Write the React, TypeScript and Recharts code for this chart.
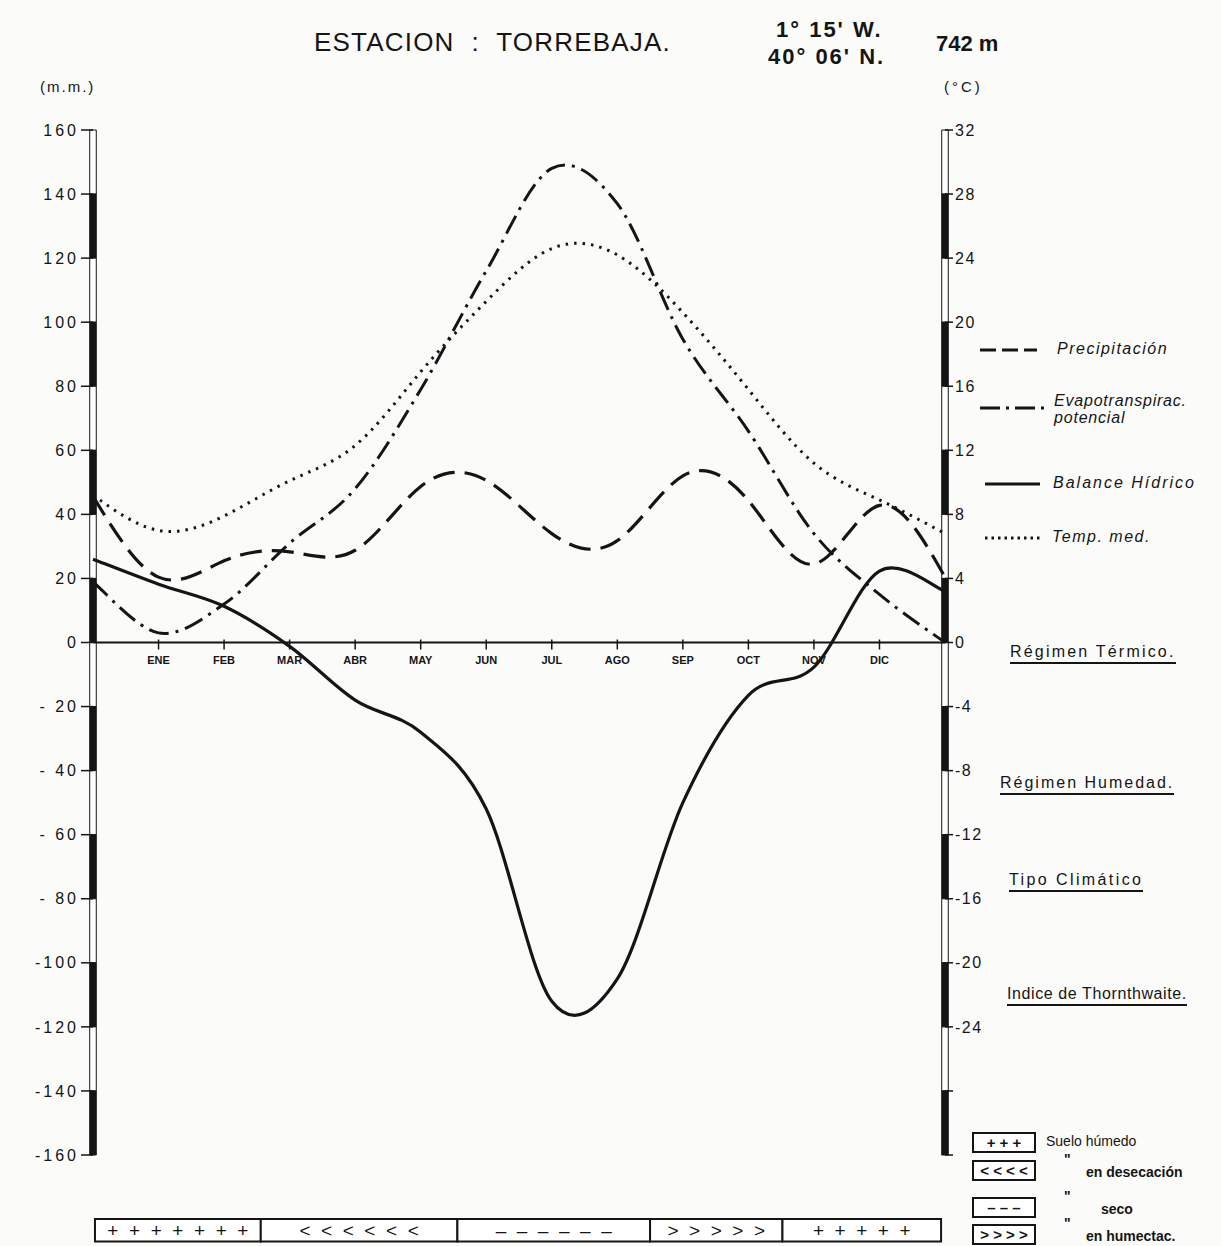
import React from 'react'
import {
  ComposedChart,
  Line,
  XAxis,
  YAxis,
  ReferenceLine,
  ReferenceArea,
  Scatter,
} from 'recharts'

// position 0 = left edge of the diagram, 1..12 = months, 13 = right edge
const positions = [0, 1, 2, 3, 4, 5, 6, 7, 8, 9, 10, 11, 12, 13]
const months = ['ENE', 'FEB', 'MAR', 'ABR', 'MAY', 'JUN', 'JUL', 'AGO', 'SEP', 'OCT', 'NOV', 'DIC']
const monthPositions = [1, 2, 3, 4, 5, 6, 7, 8, 9, 10, 11, 12]

// mm
const precipitacion = [45.6, 20.4, 25.5, 28.3, 28.8, 48.7, 50.6, 34, 31.8, 52, 44.3, 24.5, 42.8, 20.4]
const evapotranspiracion = [18.9, 3, 12, 31, 48, 79, 116, 148, 137, 94.7, 66, 34, 15, 0]
const balanceHidrico = [26, 18.2, 11.3, -1.2, -18, -28, -52, -112, -105, -50, -16.5, -7.7, 22.3, 16]
// °C
const tempMedia = [9.2, 7.0, 7.9, 10.1, 12.3, 16.9, 21.3, 24.6, 24.2, 20.6, 15.8, 11.2, 8.9, 6.8]

const mmTicks = [160, 140, 120, 100, 80, 60, 40, 20, 0, -20, -40, -60, -80, -100, -120, -140, -160]
const tempTicks = [32, 28, 24, 20, 16, 12, 8, 4, 0, -4, -8, -12, -16, -20, -24, -28, -32]

// soil water state strip under the diagram
const soilStart = [0.03, 2.56, 5.56, 8.5, 10.52]
const soilEnd = [2.56, 5.56, 8.5, 10.52, 12.94]
const soilSymbols = ['+ + + + + + +', '< < < < < <', '– – – – – –', '> > > > >', '+ + + + +']

const data = positions.map((pos, i) => ({
  pos,
  precip: precipitacion[i],
  etp: evapotranspiracion[i],
  bal: balanceHidrico[i],
  temp: tempMedia[i],
}))
const monthPoints = months.map((m, i) => ({ pos: monthPositions[i], y: 0, label: m }))

const INK = '#151515'
const FONT = "'Liberation Sans', Arial, sans-serif"
const spaced = (s: string) => s.split(' ').join('\u00a0\u00a0')

// Catmull-Rom curve (passes through every point, little overshoot)
const catmullRom = (context: any) => {
  let pts: number[][] = []
  return {
    areaStart() {},
    areaEnd() {},
    lineStart() {
      pts = []
    },
    lineEnd() {
      const n = pts.length
      if (!n) return
      context.moveTo(pts[0][0], pts[0][1])
      for (let i = 0; i < n - 1; i++) {
        const p0 = pts[Math.max(0, i - 1)]
        const p1 = pts[i]
        const p2 = pts[i + 1]
        const p3 = pts[Math.min(n - 1, i + 2)]
        context.bezierCurveTo(
          p1[0] + (p2[0] - p0[0]) / 6,
          p1[1] + (p2[1] - p0[1]) / 6,
          p2[0] - (p3[0] - p1[0]) / 6,
          p2[1] - (p3[1] - p1[1]) / 6,
          p2[0],
          p2[1],
        )
      }
    },
    point(x: number, y: number) {
      pts.push([+x, +y])
    },
  }
}

const MonthTick = (props: any) => {
  const { cx, cy, payload } = props
  return (
    <g>
      <line x1={cx} x2={cx} y1={cy - 3} y2={cy + 7} stroke={INK} strokeWidth={1.5} />
      <text
        x={cx}
        y={cy + 21}
        textAnchor="middle"
        fontSize={11}
        fontWeight="bold"
        fontFamily="'Liberation Sans Narrow', 'Liberation Sans', sans-serif"
        fill={INK}
      >
        {payload.label}
      </text>
    </g>
  )
}

const fmtMm = (v: number) => (v < 0 ? (v <= -100 ? `-${-v}` : `- ${-v}`) : String(v))
const fmtT = (v: number) => (v < -24 ? '' : String(v))

const abs = (left: number, top: number, extra: React.CSSProperties = {}): React.CSSProperties => ({
  position: 'absolute',
  left,
  top,
  lineHeight: 1,
  whiteSpace: 'nowrap',
  color: INK,
  fontFamily: FONT,
  ...extra,
})

export default function App() {
  return (
    <div style={{ position: 'absolute', left: 0, top: 0, width: 1221, height: 1246, background: '#fbfbfa' }}>
      <ComposedChart
        width={1221}
        height={1246}
        data={data}
        margin={{ top: 130, right: 226, bottom: 91, left: 33 }}
      >
        <XAxis dataKey="pos" type="number" domain={[0, 13]} hide />
        <YAxis
          yAxisId="mm"
          domain={[-160, 160]}
          ticks={mmTicks}
          interval={0}
          width={60}
          tickSize={12}
          axisLine={false}
          tickLine={{ stroke: INK, strokeWidth: 1.5 }}
          tickFormatter={fmtMm}
          tick={{ fill: INK, fontSize: 16, fontFamily: FONT, letterSpacing: 3 }}
        />
        <YAxis
          yAxisId="t"
          orientation="right"
          domain={[-32, 32]}
          ticks={tempTicks}
          interval={0}
          width={50}
          tickSize={8}
          axisLine={false}
          tickLine={{ stroke: INK, strokeWidth: 1.5 }}
          tickFormatter={fmtT}
          tick={{ fill: INK, fontSize: 16, fontFamily: FONT, letterSpacing: 1.5 }}
        />

        {/* banded axis bars */}
        {mmTicks.slice(0, -1).map((v, k) => (
          <ReferenceArea
            key={`l${k}`}
            yAxisId="mm"
            x1={-0.05}
            x2={0.05}
            y1={mmTicks[k + 1]}
            y2={v}
            ifOverflow="visible"
            fill={k % 2 ? INK : '#fff'}
            fillOpacity={1}
            stroke={INK}
            strokeWidth={1}
          />
        ))}
        {mmTicks.slice(0, -1).map((v, k) => (
          <ReferenceArea
            key={`r${k}`}
            yAxisId="mm"
            x1={12.95}
            x2={13.05}
            y1={mmTicks[k + 1]}
            y2={v}
            ifOverflow="visible"
            fill={k % 2 ? INK : '#fff'}
            fillOpacity={1}
            stroke={INK}
            strokeWidth={1}
          />
        ))}

        <ReferenceLine yAxisId="mm" y={0} stroke={INK} strokeWidth={2} />

        {/* soil state strip */}
        {soilSymbols.map((s, i) => (
          <ReferenceArea
            key={`s${i}`}
            yAxisId="mm"
            x1={soilStart[i]}
            x2={soilEnd[i]}
            y1={-187}
            y2={-180}
            ifOverflow="visible"
            fill="#fff"
            fillOpacity={1}
            stroke={INK}
            strokeWidth={2}
            label={{ value: spaced(s), position: 'center', fill: INK, fontSize: 19, fontFamily: FONT }}
          />
        ))}

        <Line
          yAxisId="t"
          dataKey="temp"
          type="natural"
          stroke={INK}
          strokeWidth={3}
          strokeDasharray="2.5 6"
          dot={false}
          isAnimationActive={false}
        />
        <Line
          yAxisId="mm"
          dataKey="etp"
          type={catmullRom as any}
          stroke={INK}
          strokeWidth={3}
          strokeDasharray="20 7 3 7"
          dot={false}
          isAnimationActive={false}
        />
        <Line
          yAxisId="mm"
          dataKey="precip"
          type="natural"
          stroke={INK}
          strokeWidth={3.2}
          strokeDasharray="22 10"
          dot={false}
          isAnimationActive={false}
        />
        <Line
          yAxisId="mm"
          dataKey="bal"
          type={catmullRom as any}
          stroke={INK}
          strokeWidth={3.2}
          dot={false}
          isAnimationActive={false}
        />
        <Scatter
          yAxisId="mm"
          data={monthPoints}
          dataKey="y"
          shape={MonthTick}
          isAnimationActive={false}
        />
      </ComposedChart>

      {/* title */}
      <div style={abs(314, 29, { fontSize: 26, letterSpacing: 1.2 })}>ESTACION&nbsp; :&nbsp; TORREBAJA.</div>
      <div style={abs(776, 19, { fontSize: 22, fontWeight: 'bold', letterSpacing: 2 })}>1° 15' W.</div>
      <div style={abs(768, 46, { fontSize: 22, fontWeight: 'bold', letterSpacing: 2 })}>40° 06' N.</div>
      <div style={abs(936, 33, { fontSize: 22, fontWeight: 'bold' })}>742 m</div>
      <div style={abs(40, 79, { fontSize: 15, letterSpacing: 2 })}>(m.m.)</div>
      <div style={abs(944, 79, { fontSize: 15, letterSpacing: 3 })}>(°C)</div>

      {/* line legend */}
      <svg style={{ position: 'absolute', left: 975, top: 330 }} width={75} height={230}>
        <line x1={5} x2={62} y1={20} y2={20} stroke={INK} strokeWidth={3.2} strokeDasharray="16 6" />
        <line x1={5} x2={70} y1={78} y2={78} stroke={INK} strokeWidth={3} strokeDasharray="20 6 3 6" />
        <line x1={10} x2={65} y1={154} y2={154} stroke={INK} strokeWidth={3.2} />
        <line x1={10} x2={66} y1={208} y2={208} stroke={INK} strokeWidth={3} strokeDasharray="2.5 4" />
      </svg>
      <div style={abs(1057, 341, { fontSize: 16, fontStyle: 'italic', letterSpacing: 1.5 })}>Precipitación</div>
      <div style={abs(1054, 392, { fontSize: 16, fontStyle: 'italic', letterSpacing: 0.8, lineHeight: '17px' })}>
        Evapotranspirac.
        <br />
        potencial
      </div>
      <div style={abs(1053, 475, { fontSize: 16, fontStyle: 'italic', letterSpacing: 2 })}>Balance Hídrico</div>
      <div style={abs(1052, 529, { fontSize: 16, fontStyle: 'italic', letterSpacing: 1.5 })}>Temp. med.</div>

      {/* regime labels */}
      {[
        { t: 'Régimen Térmico.', x: 1010, y: 644, ls: 2.2 },
        { t: 'Régimen Humedad.', x: 1000, y: 775, ls: 2 },
        { t: 'Tipo Climático', x: 1009, y: 872, ls: 2.4 },
        { t: 'Indice de Thornthwaite.', x: 1007, y: 986, ls: 0.6 },
      ].map((r) => (
        <div
          key={r.t}
          style={abs(r.x, r.y, {
            fontSize: 16,
            letterSpacing: r.ls,
            paddingBottom: 2,
            borderBottom: `2px solid ${INK}`,
          })}
        >
          {r.t}
        </div>
      ))}

      {/* soil legend */}
      {[
        { box: '+ + +', quote: false, t: 'Suelo húmedo', y: 1132, tx: 1046 },
        { box: '< < < <', quote: true, t: 'en desecación', y: 1160, tx: 1086 },
        { box: '– – –', quote: true, t: 'seco', y: 1197, tx: 1101 },
        { box: '> > > >', quote: true, t: 'en humectac.', y: 1224, tx: 1086 },
      ].map((s) => (
        <React.Fragment key={s.t}>
          <div
            style={abs(972, s.y, {
              width: 60,
              height: 17,
              border: `2px solid ${INK}`,
              background: '#fff',
              fontSize: 15,
              fontWeight: 'bold',
              textAlign: 'center',
              lineHeight: '17px',
            })}
          >
            {s.box}
          </div>
          {s.quote && <div style={abs(1064, s.y - 8, { fontSize: 14, fontWeight: 'bold' })}>"</div>}
          <div style={abs(s.tx, s.y + (s.quote ? 5 : 2), { fontSize: 14, fontWeight: s.quote ? 'bold' : 'normal' })}>
            {s.t}
          </div>
        </React.Fragment>
      ))}
    </div>
  )
}
